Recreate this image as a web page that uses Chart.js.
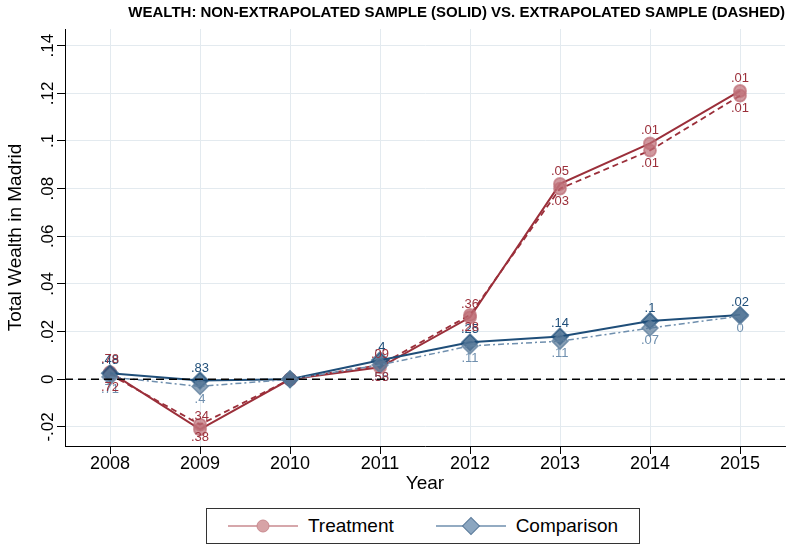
<!DOCTYPE html>
<html><head><meta charset="utf-8">
<script src="https://cdn.jsdelivr.net/npm/chart.js@4"></script>
<style>
body{margin:0;background:#fff;font-family:"Liberation Sans",Arial,sans-serif}
#wrap{position:relative;width:786px;height:548px}
#c{position:absolute;left:0;top:0}
#legend{position:absolute;left:206px;top:508px;width:434px;height:36px;border:1px solid #333;box-sizing:border-box;display:flex;align-items:center;justify-content:space-around;font-size:19px;background:#fff}
.it{display:flex;align-items:center;gap:10px}
</style></head><body>
<div id="wrap"><canvas id="c" width="786" height="505"></canvas>
<div id="legend">
 <div class="it"><svg width="70" height="20"><line x1="0" y1="10" x2="70" y2="10" stroke="#c98a8f" stroke-width="1.5"/><circle cx="35" cy="10" r="6" fill="#d7a3a6" stroke="#c98a8f"/></svg>Treatment</div>
 <div class="it"><svg width="70" height="20"><line x1="0" y1="10" x2="70" y2="10" stroke="#6f8fae" stroke-width="1.5"/><rect x="29" y="4" width="12" height="12" transform="rotate(45 35 10)" fill="#8ba6c0" stroke="#5a7a9a"/></svg>Comparison</div>
</div></div>
<script>
var years = [2008, 2009, 2010, 2011, 2012, 2013, 2014, 2015];
var treatSolid = [0.003, -0.021, 0, 0.005, 0.026, 0.082, 0.099, 0.121];
var treatDashed = [0.002, -0.019, 0, 0.006, 0.027, 0.080, 0.096, 0.119];
var compSolid = [0.0025, -0.0005, 0, 0.008, 0.0155, 0.018, 0.0245, 0.027];
var compDashed = [0.001, -0.003, 0, 0.006, 0.014, 0.016, 0.0215, 0.0265];
var treatSolidLbl = ['.78', '.34', '', '.09', '.36', '.05', '.01', '.01'];
var treatDashedLbl = ['.72', '.38', '', '.58', '.28', '.03', '.01', '.01'];
var compSolidLbl = ['.48', '.83', '', '.4', '.25', '.14', '.1', '.02'];
var compDashedLbl = ['.71', '.4', '', '.56', '.11', '.11', '.07', '0'];
var yTicks = [-0.02, 0, 0.02, 0.04, 0.06, 0.08, 0.1, 0.12, 0.14];
var yTickLbl = ['-.02', '0', '.02', '.04', '.06', '.08', '.1', '.12', '.14'];
var titleText = 'WEALTH: NON-EXTRAPOLATED SAMPLE (SOLID) VS. EXTRAPOLATED SAMPLE (DASHED)';

function pts(v){ return years.map(function(y,i){ return {x:y, y:v[i]}; }); }

var red = '#9b2f3a', blue = '#1f4e79';
function ds(v, lbl, color, fill, style, dash, above, w){
  return {data:pts(v), borderColor:color, borderWidth:w, borderDash:dash, pointStyle:style,
    pointRadius:style=='rectRot'?8:6, pointBackgroundColor:fill, pointBorderColor:fill,
    lbl:lbl, lblColor:color, above:above, tension:0};
}

var labelPlugin = {
  id:'lbls',
  afterDatasetsDraw:function(chart){
    var ctx = chart.ctx;
    ctx.save();
    ctx.font = '13px "Liberation Sans", Arial';
    ctx.textAlign = 'center';
    chart.data.datasets.forEach(function(d,di){
      var meta = chart.getDatasetMeta(di);
      meta.data.forEach(function(p,i){
        if(!d.lbl[i]) return;
        ctx.fillStyle = d.lblColor;
        ctx.textBaseline = d.above ? 'bottom' : 'top';
        ctx.fillText(d.lbl[i], p.x, p.y + (d.above ? -6 : 6));
      });
    });
    var xs = chart.scales.x, ys = chart.scales.y, a = chart.chartArea;
    var y0 = ys.getPixelForValue(0);
    ctx.strokeStyle = '#000'; ctx.lineWidth = 1.5; ctx.setLineDash([8,5]);
    ctx.beginPath(); ctx.moveTo(a.left, y0); ctx.lineTo(a.right, y0); ctx.stroke();
    ctx.setLineDash([]);
    ctx.fillStyle = '#000'; ctx.font = '17px "Liberation Sans", Arial';
    ctx.textBaseline = 'bottom';
    yTicks.forEach(function(t,i){
      var y = ys.getPixelForValue(t);
      ctx.save(); ctx.translate(a.left - 8, y); ctx.rotate(-Math.PI/2);
      ctx.fillText(yTickLbl[i], 0, 0); ctx.restore();
    });
    ctx.font = '18px "Liberation Sans", Arial';
    ctx.textBaseline = 'top';
    years.forEach(function(yr){ ctx.fillText(String(yr), xs.getPixelForValue(yr), a.bottom + 9); });
    ctx.font = '19px "Liberation Sans", Arial';
    ctx.fillText('Year', (a.left + a.right) / 2, a.bottom + 28);
    ctx.font = 'bold 15px "Liberation Sans", Arial';
    ctx.textAlign = 'right';
    ctx.fillText(titleText, 785, 5);
    ctx.restore();
  }
};

new Chart(document.getElementById('c'), {
  type:'line',
  data:{datasets:[
    ds(compDashed, compDashedLbl, '#6f8fae', 'rgba(90,122,154,0.7)', 'rectRot', [6,3,2,3], false, 1.5),
    ds(compSolid, compSolidLbl, blue, 'rgba(31,78,121,0.7)', 'rectRot', [], true, 2),
    ds(treatDashed, treatDashedLbl, red, 'rgba(190,110,118,0.7)', 'circle', [6,4], false, 1.8),
    ds(treatSolid, treatSolidLbl, red, 'rgba(190,110,118,0.7)', 'circle', [], true, 2)
  ]},
  options:{
    responsive:false, animation:false,
    layout:{autoPadding:false, padding:{top:29,right:1,left:0,bottom:0}},
    plugins:{legend:{display:false}, tooltip:{enabled:false}, title:{display:false}},
    scales:{
      x:{type:'linear', min:2007.5, max:2015.5,
        afterBuildTicks:function(s){ s.ticks = years.map(function(y){return {value:y};}); },
        afterFit:function(s){ s.height = 59; s.paddingLeft = 0; s.paddingRight = 0; },
        ticks:{display:false},
        grid:{color:'#e3eaef', drawTicks:true, tickColor:'#000', tickLength:8},
        border:{color:'#000'}},
      y:{min:-0.028, max:0.147,
        afterBuildTicks:function(s){ s.ticks = yTicks.map(function(v){return {value:v};}); },
        afterFit:function(s){ s.width = 65; s.paddingTop = 0; s.paddingBottom = 0; },
        ticks:{display:false},
        grid:{color:'#e3eaef', drawTicks:true, tickColor:'#000', tickLength:8},
        border:{color:'#000'},
        title:{display:true, text:'Total Wealth in Madrid', font:{size:19}, color:'#000', padding:{bottom:0}}}
    }
  },
  plugins:[labelPlugin]
});
</script></body></html>
